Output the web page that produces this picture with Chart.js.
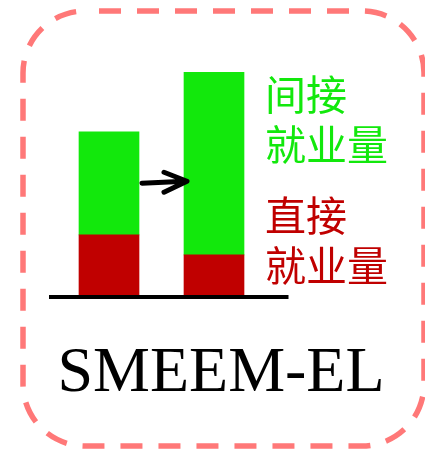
<!DOCTYPE html>
<html>
<head>
<meta charset="utf-8">
<script src="https://cdn.jsdelivr.net/npm/chart.js@4.4.1/dist/chart.umd.min.js"></script>
<style>
    html, body { margin: 0; padding: 0; background: #ffffff; }
    #wrap { width: 425px; height: 449px; position: relative; }
</style>
</head>
<body>
<div id="wrap"><canvas id="chart" width="425" height="449"></canvas></div>
<script>
// Dados do gráfico
const categories = ['前', '后'];
const directJobs = [27.6, 18.7];     // 直接就业量
const indirectJobs = [45.8, 81.3];   // 间接就业量
const yMax = 100;
const directLabel = ['直接', '就业量'];
const indirectLabel = ['间接', '就业量'];
const titleText = 'SMEEM-EL';

const RED = '#c00000';
const GREEN = '#12e80c';

// Moldura tracejada, eixo, seta e textos
const decorPlugin = {
    id: 'decor',
    beforeDraw(chart) {
        const ctx = chart.ctx;
        ctx.save();
        ctx.strokeStyle = '#ff7878';
        ctx.lineWidth = 5.5;
        ctx.setLineDash([22, 16]);
        ctx.lineDashOffset = 24;
        ctx.beginPath();
        ctx.roundRect(23, 11, 401, 435, 62);
        ctx.stroke();
        ctx.restore();
    },
    afterDatasetsDraw(chart) {
        const ctx = chart.ctx;
        const area = chart.chartArea;
        const y = chart.scales.y;
        const bars = chart.getDatasetMeta(1).data;

        // linha de base
        ctx.save();
        ctx.strokeStyle = '#000000';
        ctx.lineWidth = 4;
        ctx.beginPath();
        ctx.moveTo(area.left - 7.5, y.getPixelForValue(0));
        ctx.lineTo(area.right + 22, y.getPixelForValue(0));
        ctx.stroke();

        // seta entre as barras
        const x0 = bars[0].x + bars[0].width / 2 + 3;
        const x1 = bars[1].x - bars[1].width / 2 + 3;
        const ay = y.getPixelForValue(51);
        ctx.lineWidth = 5;
        ctx.lineCap = 'round';
        ctx.lineJoin = 'round';
        ctx.beginPath();
        ctx.moveTo(x0, ay + 1);
        ctx.lineTo(x1 - 2, ay - 1);
        ctx.moveTo(x1 - 23, ay - 10);
        ctx.lineTo(x1, ay - 1);
        ctx.lineTo(x1 - 23, ay + 10);
        ctx.stroke();

        // rótulos
        ctx.font = '41px "Noto Sans CJK SC"';
        ctx.textAlign = 'left';
        ctx.textBaseline = 'middle';
        const tx = area.right - 1.5;
        ctx.fillStyle = GREEN;
        indirectLabel.forEach((t, i) => ctx.fillText(t, tx, 94 + i * 50));
        ctx.fillStyle = RED;
        directLabel.forEach((t, i) => ctx.fillText(t, tx, 215 + i * 50));

        // título
        ctx.fillStyle = '#000000';
        ctx.font = '64px "Liberation Serif"';
        ctx.textAlign = 'center';
        ctx.textBaseline = 'alphabetic';
        ctx.fillText(titleText, 221, 391);
        ctx.restore();
    }
};

new Chart(document.getElementById('chart'), {
    type: 'bar',
    data: {
        labels: categories,
        datasets: [
            {
                label: directLabel.join(''),
                data: directJobs,
                backgroundColor: RED,
                barThickness: 60
            },
            {
                label: indirectLabel.join(''),
                data: indirectJobs,
                backgroundColor: GREEN,
                barThickness: 60
            }
        ]
    },
    options: {
        responsive: false,
        animation: false,
        layout: { padding: { left: 56.5, right: 158.5, top: 72, bottom: 152 } },
        plugins: { legend: { display: false }, tooltip: { enabled: false } },
        scales: {
            x: { stacked: true, display: false },
            y: { stacked: true, display: false, min: 0, max: yMax }
        }
    },
    plugins: [decorPlugin]
});
</script>
</body>
</html>
